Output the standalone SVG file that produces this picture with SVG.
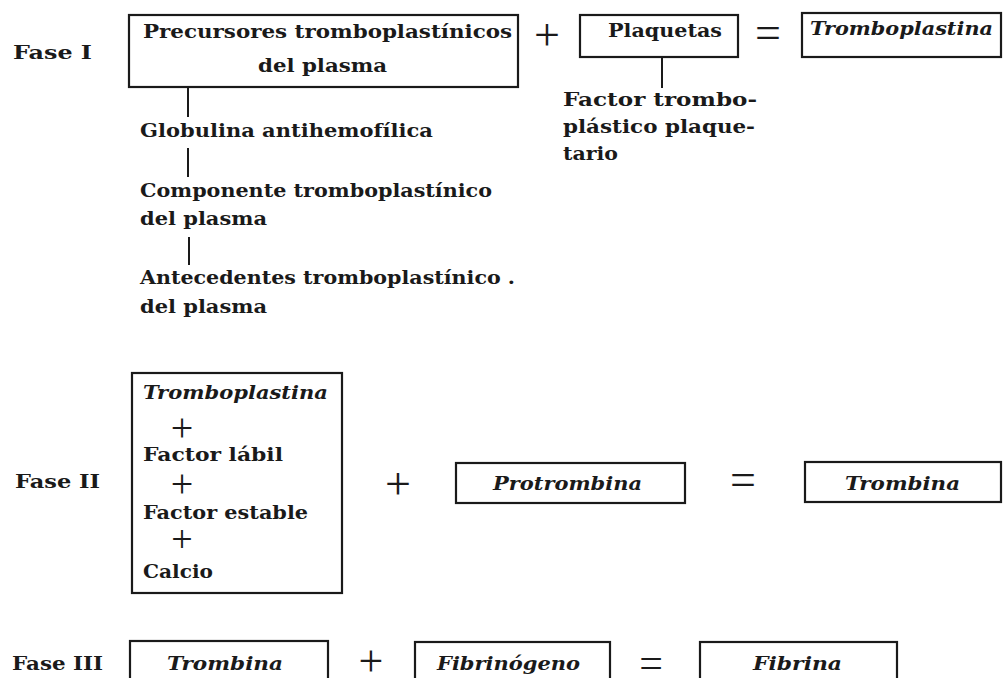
<svg xmlns="http://www.w3.org/2000/svg" width="1004" height="678" viewBox="0 0 1004 678">
<style>
.t{font-family:"DejaVu Serif","Liberation Serif",serif;font-weight:bold;font-size:18px;fill:#1a1a1a}
.i{font-style:italic}
.lbl{font-size:18px}
.box{fill:none;stroke:#1a1a1a;stroke-width:2.2}
.op{font-family:"Liberation Serif",serif;font-weight:normal;font-size:46px;fill:#1a1a1a;text-anchor:middle}
.ln{stroke:#1a1a1a;stroke-width:2;fill:none}
</style>
<rect width="1004" height="678" fill="#fff"/>

<!-- Fase I -->
<g id="fase1-label"><text class="t lbl" x="13" y="59" textLength="79" lengthAdjust="spacingAndGlyphs">Fase I</text></g>
<g id="precursores">
<rect class="box" x="129" y="15" width="389" height="72"/>
<text class="t" x="143" y="38" textLength="369" lengthAdjust="spacingAndGlyphs">Precursores tromboplastínicos</text>
<text class="t" x="258" y="72" textLength="129" lengthAdjust="spacingAndGlyphs">del plasma</text>
</g>
<g id="op1-plus"><text class="op" x="547" y="50">+</text></g>
<g id="plaquetas">
<rect class="box" x="580" y="15" width="158" height="42"/>
<text class="t" x="608" y="37" textLength="114" lengthAdjust="spacingAndGlyphs">Plaquetas</text>
</g>
<g id="op1-eq"><text class="op" x="768" y="48">=</text></g>
<g id="tromboplastina1">
<rect class="box" x="802" y="13" width="199" height="44"/>
<text class="t i" x="810" y="35" textLength="183" lengthAdjust="spacingAndGlyphs">Tromboplastina</text>
</g>
<g id="factor-plaquetario">
<text class="t" x="563" y="106" textLength="194" lengthAdjust="spacingAndGlyphs">Factor trombo-</text>
<text class="t" x="563" y="133" textLength="192" lengthAdjust="spacingAndGlyphs">plástico plaque-</text>
<text class="t" x="563" y="160" textLength="55" lengthAdjust="spacingAndGlyphs">tario</text>
</g>
<g id="globulina"><text class="t" x="140" y="137" textLength="293" lengthAdjust="spacingAndGlyphs">Globulina antihemofílica</text></g>
<g id="componente">
<text class="t" x="140" y="197" textLength="352" lengthAdjust="spacingAndGlyphs">Componente tromboplastínico</text>
<text class="t" x="140" y="225" textLength="127" lengthAdjust="spacingAndGlyphs">del plasma</text>
</g>
<g id="antecedentes">
<text class="t" x="140" y="284" textLength="375" lengthAdjust="spacingAndGlyphs">Antecedentes tromboplastínico .</text>
<text class="t" x="140" y="313" textLength="127" lengthAdjust="spacingAndGlyphs">del plasma</text>
</g>

<!-- Fase II -->
<g id="fase2-label"><text class="t lbl" x="15" y="488" textLength="85" lengthAdjust="spacingAndGlyphs">Fase II</text></g>
<g id="fase2-reactivos">
<rect class="box" x="132" y="373" width="210" height="220"/>
<text class="t i" x="143" y="399" textLength="185" lengthAdjust="spacingAndGlyphs">Tromboplastina</text>
<text class="op" x="182" y="441" style="font-size:40px">+</text>
<text class="t" x="143" y="461" textLength="140" lengthAdjust="spacingAndGlyphs">Factor lábil</text>
<text class="op" x="182" y="497" style="font-size:40px">+</text>
<text class="t" x="143" y="519" textLength="165" lengthAdjust="spacingAndGlyphs">Factor estable</text>
<text class="op" x="182" y="552" style="font-size:38px">+</text>
<text class="t" x="143" y="578" textLength="70" lengthAdjust="spacingAndGlyphs">Calcio</text>
</g>
<g id="op2-plus"><text class="op" x="398" y="499">+</text></g>
<g id="protrombina">
<rect class="box" x="456" y="463" width="229" height="40"/>
<text class="t i" x="493" y="490" textLength="149" lengthAdjust="spacingAndGlyphs">Protrombina</text>
</g>
<g id="op2-eq"><text class="op" x="743" y="495">=</text></g>
<g id="trombina2">
<rect class="box" x="805" y="462" width="196" height="40"/>
<text class="t i" x="845" y="490" textLength="115" lengthAdjust="spacingAndGlyphs">Trombina</text>
</g>

<!-- Fase III -->
<g id="fase3-label"><text class="t lbl" x="12" y="670" textLength="91" lengthAdjust="spacingAndGlyphs">Fase III</text></g>
<g id="trombina3">
<rect class="box" x="130" y="641" width="198" height="60"/>
<text class="t i" x="167" y="670" textLength="116" lengthAdjust="spacingAndGlyphs">Trombina</text>
</g>
<g id="op3-plus"><text class="op" x="371" y="676" style="font-size:44px">+</text></g>
<g id="fibrinogeno">
<rect class="box" x="415" y="642" width="195" height="60"/>
<text class="t i" x="437" y="670" textLength="143" lengthAdjust="spacingAndGlyphs">Fibrinógeno</text>
</g>
<g id="op3-eq"><text class="op" x="651" y="677" style="font-size:42px">=</text></g>
<g id="fibrina">
<rect class="box" x="700" y="642" width="197" height="60"/>
<text class="t i" x="753" y="670" textLength="89" lengthAdjust="spacingAndGlyphs">Fibrina</text>
</g>

<!-- connectors -->
<g id="connectors">
<line class="ln" x1="662" y1="57" x2="662" y2="88"/>
<line class="ln" x1="188" y1="87" x2="188" y2="117"/>
<line class="ln" x1="188" y1="148" x2="188" y2="177"/>
<line class="ln" x1="189" y1="237" x2="189" y2="265"/>
</g>
</svg>
